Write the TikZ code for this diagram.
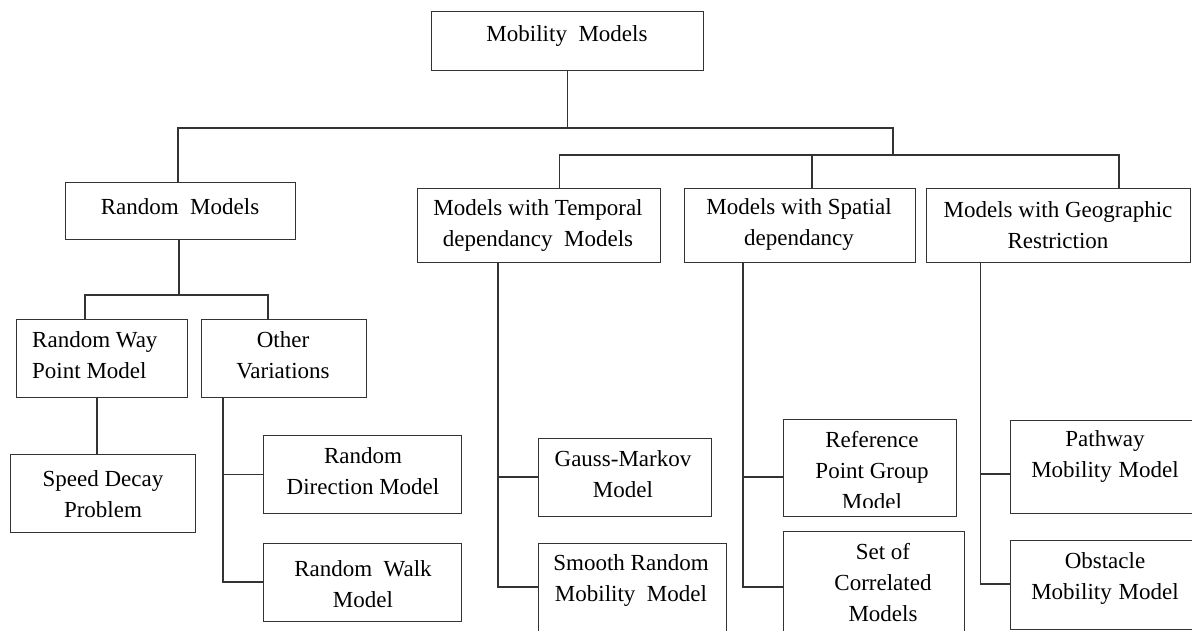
\documentclass[tikz,border=0pt]{standalone}
\usepackage{fontspec}
\setmainfont{Liberation Serif}
\begin{document}
\begin{tikzpicture}[x=1pt,y=-1pt,
  box/.style={draw=black!80, line width=1.4pt, inner sep=0pt, anchor=north west},
  conn/.style={draw=black!80, line width=1.3pt},
  txt/.style={align=center, inner sep=0pt, font=\fontsize{23}{31}\selectfont}]
\useasboundingbox (0,0) rectangle (1192,631);
% boxes
\node[box, minimum width=272pt, minimum height=59pt] (root) at (431,11) {};
\node[box, minimum width=230pt, minimum height=57pt] (rm) at (65,182) {};
\node[box, minimum width=243pt, minimum height=74pt] (tmp) at (417,188) {};
\node[box, minimum width=231pt, minimum height=74pt] (spa) at (684,188) {};
\node[box, minimum width=264pt, minimum height=74pt] (geo) at (926,188) {};
\node[box, minimum width=171pt, minimum height=78pt] (rwp) at (16,319) {};
\node[box, minimum width=165pt, minimum height=78pt] (ov) at (201,319) {};
\node[box, minimum width=185pt, minimum height=78pt] (sd) at (10,454) {};
\node[box, minimum width=198pt, minimum height=78pt] (rd) at (263,435) {};
\node[box, minimum width=198pt, minimum height=78pt] (rw) at (263,543) {};
\node[box, minimum width=173pt, minimum height=78pt] (gm) at (538,438) {};
\node[box, minimum width=188pt, minimum height=100pt] (sr) at (538,543) {};
\node[box, minimum width=173pt, minimum height=97pt] (rpg) at (783,419) {};
\node[box, minimum width=181pt, minimum height=110pt] (sc) at (783,531) {};
\node[box, minimum width=200pt, minimum height=93pt] (pw) at (1010,420) {};
\node[box, minimum width=200pt, minimum height=89pt] (ob) at (1010,540) {};
% texts
\node[txt] (troot) at (567,36) {Mobility\ \ Models};
\node[txt] (trm) at (180,207) {Random\ \ Models};
\node[txt] (ttmp) at (538,226) {Models with Temporal\\dependancy\ \ Models};
\node[txt] (tspa) at (799,225) {Models with Spatial\\dependancy};
\node[txt] (tgeo) at (1058,225) {Models with Geographic\\Restriction};
\node[txt, align=left, anchor=west] (trwp) at (32,355) {Random Way\\Point Model};
\node[txt] (tov) at (283,355) {Other\\Variations};
\node[txt] (tsd) at (103,494) {Speed Decay\\Problem};
\node[txt] (trd) at (363,471) {Random\\Direction Model};
\node[txt] (trw) at (363,584) {Random\ \ Walk\\Model};
\node[txt] (tgm) at (623,474) {Gauss-Markov\\Model};
\node[txt] (tsr) at (631,580) {Smooth Random\\Mobility\ \ Model};
\begin{scope}
\clip (783,419) rectangle (956,507);
\node[txt] (trpg) at (872,471) {Reference\\Point Group\\Model};
\end{scope}
\node[txt] (tsc) at (883,583) {Set of\\Correlated\\Models};
\node[txt] (tpw) at (1105,457) {Pathway\\Mobility\hspace{0.3em}Model};
\node[txt] (tob) at (1105,578) {Obstacle\\Mobility\hspace{0.3em}Model};
% connectors: top level
\coordinate (bA) at (178,128);
\coordinate (bB) at (893,128);
\coordinate (cL) at (559.5,155);
\coordinate (cS) at (812,155);
\coordinate (cR) at (1119,155);
\draw[conn] (root.south) -- (root.south |- bA);
\draw[conn] (bA |- rm.north) -- (bA) -- (bB) -- (bB |- cL);
\draw[conn] (cL |- tmp.north) -- (cL) -- (cR) -- (cR |- geo.north);
\draw[conn] (cS) -- (cS |- spa.north);
% random models
\coordinate (dA) at (85,295);
\coordinate (dM) at (179,295);
\coordinate (dB) at (268,295);
\draw[conn] (dM |- rm.south) -- (dM);
\draw[conn] (dA |- rwp.north) -- (dA) -- (dB) -- (dB |- ov.north);
\coordinate (e) at (97,420);
\draw[conn] (e |- rwp.south) -- (e |- sd.north);
\coordinate (f) at (223,582);
\draw[conn] (f |- ov.south) -- (f) -- (f -| rw.west);
\draw[conn] (f |- rd.west) -- (rd.west);
% temporal
\coordinate (g1) at (498,477);
\coordinate (g2) at (498,587);
\draw[conn] (g2 |- tmp.south) -- (g2) -- (g2 -| sr.west);
\draw[conn] (g1) -- (g1 -| gm.west);
% spatial
\coordinate (h1) at (743,477);
\coordinate (h2) at (743,587);
\draw[conn] (h2 |- spa.south) -- (h2) -- (h2 -| sc.west);
\draw[conn] (h1) -- (h1 -| rpg.west);
% geographic
\coordinate (k1) at (980.5,474);
\coordinate (k2) at (980.5,584);
\draw[conn] (k2 |- geo.south) -- (k2) -- (k2 -| ob.west);
\draw[conn] (k1) -- (k1 -| pw.west);
\end{tikzpicture}
\end{document}
